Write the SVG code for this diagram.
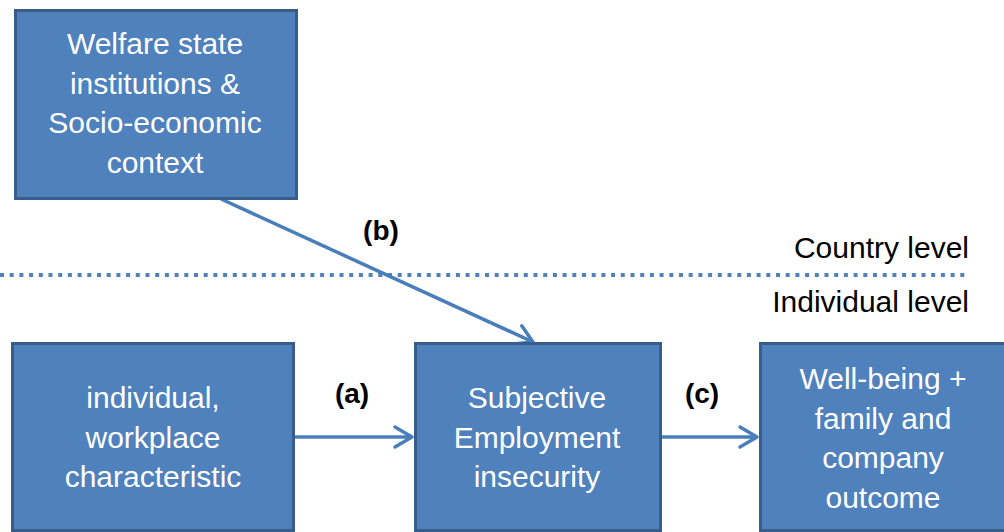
<svg xmlns="http://www.w3.org/2000/svg" width="1004" height="532" viewBox="0 0 1004 532">
  <style>
    .box { fill: #4F81BD; stroke: #385D8A; stroke-width: 3; }
    .bt { fill: #FFFFFF; font-family: "Liberation Sans", Arial, sans-serif; font-size: 30px; text-anchor: middle; }
    .lbl { fill: #000000; font-family: "Liberation Sans", Arial, sans-serif; font-size: 28px; font-weight: bold; text-anchor: middle; }
    .lvl { fill: #000000; font-family: "Liberation Sans", Arial, sans-serif; font-size: 30px; text-anchor: end; }
    .conn { stroke: #4A7EBB; stroke-width: 3.5; fill: none; }
  </style>
  <defs>
    <marker id="arr" markerUnits="userSpaceOnUse" markerWidth="40" markerHeight="40" viewBox="-20 -20 40 40" refX="0" refY="0" orient="auto" overflow="visible">
      <path d="M-17,-10 L0,0 L-17,10" fill="none" stroke="#4A7EBB" stroke-width="3.5" stroke-linejoin="round" stroke-linecap="round"/>
    </marker>
  </defs>

  <rect width="1004" height="532" fill="#FFFFFF"/>

  <g id="level-divider">
    <line x1="0" y1="275" x2="966" y2="275" stroke="#4F81BD" stroke-width="4" stroke-dasharray="4 5.7"/>
    <text class="lvl" x="969" y="258">Country level</text>
    <text class="lvl" x="969" y="312">Individual level</text>
  </g>

  <g id="connectors">
    <line class="conn" x1="221" y1="199" x2="533" y2="342" marker-end="url(#arr)"/>
    <line class="conn" x1="295" y1="437" x2="412" y2="437" marker-end="url(#arr)"/>
    <line class="conn" x1="662" y1="437" x2="757" y2="437" marker-end="url(#arr)"/>
    <text class="lbl" x="381" y="240">(b)</text>
    <text class="lbl" x="352" y="403">(a)</text>
    <text class="lbl" x="702" y="403">(c)</text>
  </g>

  <g id="node-welfare">
    <rect class="box" x="15.5" y="10.5" width="281" height="188"/>
    <text class="bt" x="155" y="54">Welfare state</text>
    <text class="bt" x="155" y="93.5">institutions &amp;</text>
    <text class="bt" x="155" y="133">Socio-economic</text>
    <text class="bt" x="155" y="172.5">context</text>
  </g>

  <g id="node-individual">
    <rect class="box" x="12.5" y="343.5" width="281" height="187"/>
    <text class="bt" x="153" y="408">individual,</text>
    <text class="bt" x="153" y="447.5">workplace</text>
    <text class="bt" x="153" y="487">characteristic</text>
  </g>

  <g id="node-insecurity">
    <rect class="box" x="415.5" y="343.5" width="245" height="187"/>
    <text class="bt" x="537" y="408">Subjective</text>
    <text class="bt" x="537" y="447.5">Employment</text>
    <text class="bt" x="537" y="487">insecurity</text>
  </g>

  <g id="node-wellbeing">
    <rect class="box" x="760.5" y="343.5" width="245" height="187"/>
    <text class="bt" x="883" y="389">Well-being +</text>
    <text class="bt" x="883" y="428.5">family and</text>
    <text class="bt" x="883" y="468">company</text>
    <text class="bt" x="883" y="507.5">outcome</text>
  </g>
</svg>
